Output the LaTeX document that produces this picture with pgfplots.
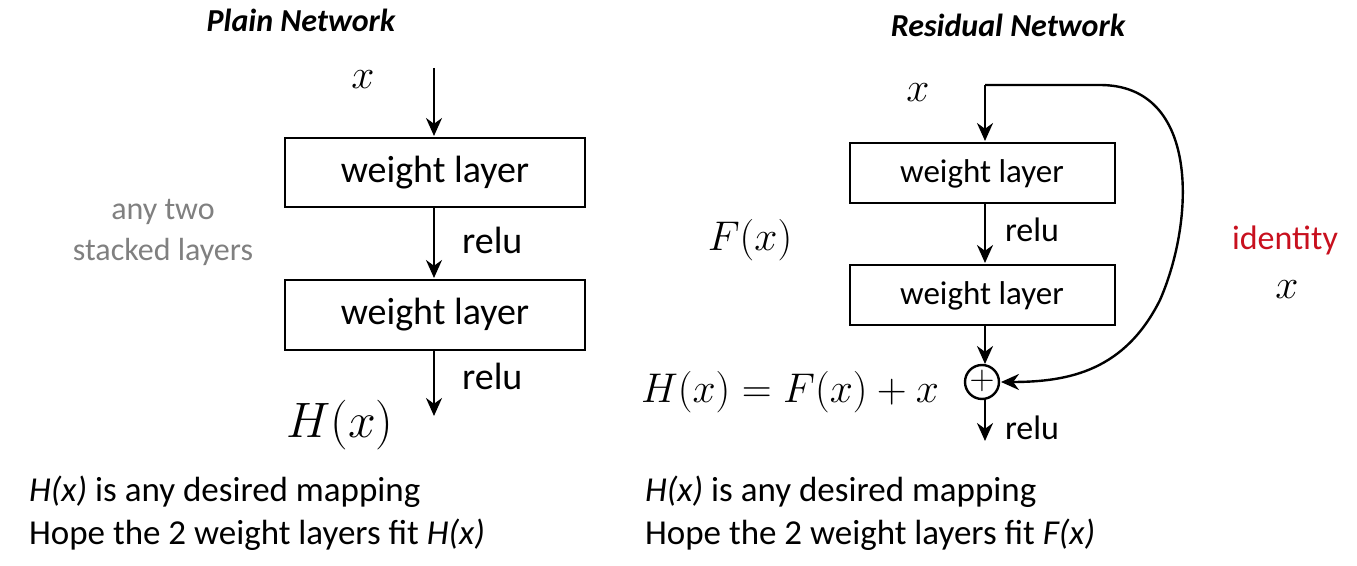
\documentclass[border=0pt]{standalone}
\usepackage{pgfplots}
\pgfplotsset{compat=1.18}
\usepackage{fontspec}
\setmainfont{Carlito}
\usetikzlibrary{arrows.meta}
\newcommand{\fs}[1]{\fontsize{#1}{#1}\selectfont}
\begin{document}
\begin{tikzpicture}
\begin{axis}[width=678.5pt,height=283pt,scale only axis,hide axis,
  xmin=0,xmax=1357,ymin=0,ymax=566,y dir=reverse,enlargelimits=false,clip=false]
\addplot[draw=none] coordinates {(0,0) (1357,566)};
\tikzset{ar/.style={line width=1.2pt,-{Stealth[length=9pt,width=8pt]}},bx/.style={draw,line width=1pt}}
% left
\node[font=\fs{16}\bfseries\itshape] at (301,20) {Plain Network};
\node[font=\fs{22}] at (363,80) {$x$};
\draw[ar] (434,68) -- (434,136);
\draw[bx] (285,138) rectangle (585,207);
\node[font=\fs{19}] at (435,173) {weight layer};
\draw[ar] (434,207) -- (434,278);
\node[font=\fs{19},anchor=west] at (455,240) {relu};
\draw[bx] (285,280) rectangle (585,350);
\node[font=\fs{19}] at (435,315) {weight layer};
\draw[ar] (434,350) -- (434,416);
\node[font=\fs{19},anchor=west] at (455,376) {relu};
\node[font=\fs{23}] at (340,425) {$H(x)$};
\node[font=\fs{16},text=gray] at (163,212) {any two};
\node[font=\fs{16},text=gray] at (163,252) {stacked layers};
% right
\node[font=\fs{16}\bfseries\itshape] at (1008,25) {Residual Network};
\node[font=\fs{20}] at (918,93) {$x$};
\draw[ar] (985,85) -- (985,141);
\draw[bx] (850,143) rectangle (1115,203);
\node[font=\fs{16.5}] at (982,174) {weight layer};
\draw[ar] (985,203) -- (985,263);
\node[font=\fs{17}] at (1032,230) {relu};
\draw[bx] (850,265) rectangle (1115,325);
\node[font=\fs{16.5}] at (982,296) {weight layer};
\draw[ar] (985,325) -- (985,364);
\draw[line width=1.2pt] (982,382) circle[radius=8.5pt];
\node[font=\fs{17}] at (982,381) {$+$};
\draw[ar] (985,399) -- (985,441);
\node[font=\fs{17}] at (1032,428) {relu};
\draw[ar] (985,85) -- (1100,85) .. controls (1200,85) and (1195,220) .. (1160,300) .. controls (1125,370) and (1070,382) .. (1001,382);
\node[font=\fs{21}] at (750,240) {$F(x)$};
\node[font=\fs{17},text={rgb,255:red,200;green,16;blue,30}] at (1285,240) {identity};
\node[font=\fs{20}] at (1287,290) {$x$};
\node[font=\fs{21}] at (790,392) {$H(x)=F(x)+x$};
% bottom
\node[font=\fs{17.5},anchor=west] at (22,492) {\textit{H(x)} is any desired mapping};
\node[font=\fs{17.5},anchor=west] at (22,535) {Hope the 2 weight layers fit \textit{H(x)}};
\node[font=\fs{17.5},anchor=west] at (638,492) {\textit{H(x)} is any desired mapping};
\node[font=\fs{17.5},anchor=west] at (638,535) {Hope the 2 weight layers fit \textit{F(x)}};
\end{axis}
\end{tikzpicture}
\end{document}
